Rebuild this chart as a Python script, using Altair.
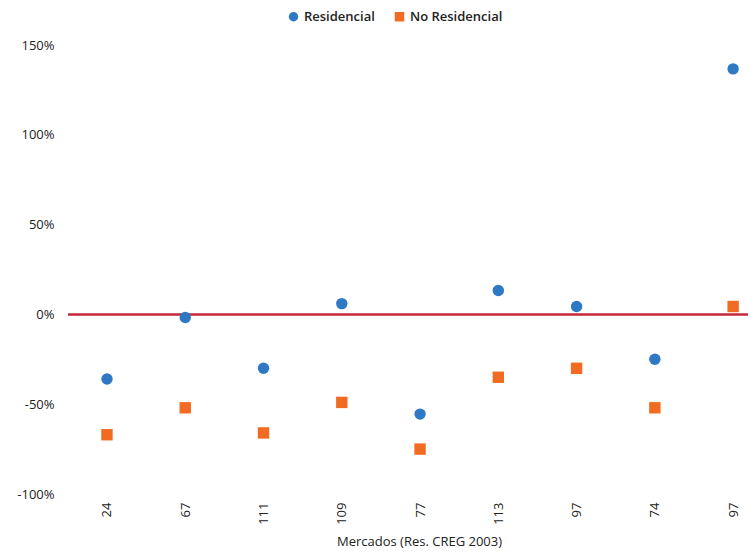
import altair as alt
import pandas as pd

mercados = ["24", "67", "111", "109", "77", "113", "97", "74", "97"]
residencial = [-36, -1.7, -30, 6, -55.5, 13.3, 4.4, -25, 136.7]
no_residencial = [-67, -52, -66, -49, -75, -35, -30, -52, 4.4]
series_names = ["Residencial", "No Residencial"]
y_ticks = [-100, -50, 0, 50, 100, 150]

rows = []
for i, m in enumerate(mercados):
    rows.append({"idx": i, "mercado": m, "serie": series_names[0], "valor": residencial[i]})
    rows.append({"idx": i, "mercado": m, "serie": series_names[1], "valor": no_residencial[i]})
df = pd.DataFrame(rows)

label_array = "[" + ",".join("'" + m + "'" for m in mercados) + "]"
FONT = "Open Sans"

x_enc = alt.X(
    "idx:Q",
    scale=alt.Scale(domain=[-0.498, 8.19], nice=False, zero=False),
    axis=alt.Axis(
        values=list(range(len(mercados))),
        labelExpr=label_array + "[datum.value]",
        labelAngle=270,
        labelAlign="right",
        labelBaseline="middle",
        labelPadding=8,
        ticks=False,
        domain=False,
        grid=False,
        title="Mercados (Res. CREG 2003)",
        titleX=351,
        titleY=47,
        titleAlign="center",
        titleBaseline="middle",
    ),
)
y_enc = alt.Y(
    "valor:Q",
    scale=alt.Scale(domain=[-100, 150], nice=False),
    axis=alt.Axis(
        values=y_ticks,
        labelExpr="datum.value + '%'",
        ticks=False,
        domain=False,
        grid=False,
        title=None,
        labelPadding=14,
    ),
)

points = alt.Chart(df).mark_point(filled=True, opacity=1, size=130).encode(
    x=x_enc,
    y=y_enc,
    color=alt.Color(
        "serie:N",
        scale=alt.Scale(domain=series_names, range=["#2f78c4", "#f26b22"]),
        legend=alt.Legend(
            title=None,
            orient="none",
            direction="horizontal",
            legendX=219,
            legendY=-35,
            symbolSize=90,
            labelFontSize=13,
            labelFont=FONT,
            labelFontWeight=600,
            columnPadding=18,
            labelOffset=4,
        ),
    ),
    shape=alt.Shape(
        "serie:N",
        scale=alt.Scale(domain=series_names, range=["circle", "square"]),
        legend=alt.Legend(title=None, orient="none", legendX=219, legendY=-35),
    ),
)

zero_df = pd.DataFrame({"y": [0]})
rule = alt.Chart(zero_df).mark_rule(color="#c3283c", strokeWidth=2.5).encode(y="y:Q")

chart = (
    alt.layer(rule, points)
    .properties(
        width=680,
        height=449,
        autosize=alt.AutoSizeParams(type="none"),
        padding={"left": 60, "top": 37, "right": 0, "bottom": 54},
    )
    .configure_view(stroke=None)
    .configure_axis(
        labelFont=FONT,
        titleFont=FONT,
        labelFontSize=13,
        titleFontSize=13,
        labelColor="#222222",
        titleColor="#222222",
        titleFontWeight="normal",
    )
    .configure_legend(labelColor="#222222")
)

chart.save("out.html", embed_options={"renderer": "svg", "actions": False})
